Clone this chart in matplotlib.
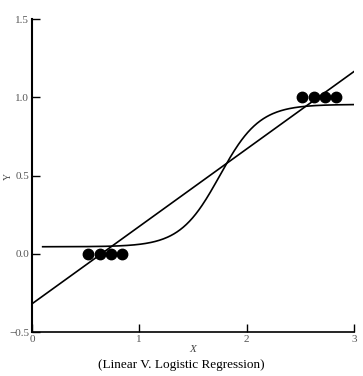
import numpy as np
import matplotlib.pyplot as plt

plt.rcParams['font.family'] = ['Liberation Serif', 'DejaVu Serif']

# observed points (0 and 1 outcomes)
x_low = [0.52, 0.63, 0.74, 0.84]
y_low = [0.0, 0.0, 0.0, 0.0]
x_high = [2.52, 2.63, 2.73, 2.83]
y_high = [1.0, 1.0, 1.0, 1.0]

# linear fit: intercept, slope
lin_coef = [-0.32, 0.495]
lin_range = [0.0, 3.0]

# logistic fit: floor, ceiling, midpoint, steepness
logit_params = [0.045, 0.955, 1.75, 5.4]
logit_range = [0.1, 3.0]

xticks = [0, 1, 2, 3]
yticks = [-0.5, 0.0, 0.5, 1.0, 1.5]
xtick_labels = ['0', '1', '2', '3']
ytick_labels = ['\u22120.5', '0.0', '0.5', '1.0', '1.5']

fig = plt.figure(figsize=(3.63, 3.76), dpi=100)
ax = fig.add_axes([0.088, 0.117, 0.887, 0.832])

xl = np.array(lin_range)
ax.plot(xl, lin_coef[0] + lin_coef[1] * xl, color='black', lw=1.2)

lo, hi, mid, k = logit_params
xs = np.linspace(logit_range[0], logit_range[1], 300)
ax.plot(xs, lo + (hi - lo) / (1 + np.exp(-k * (xs - mid))), color='black', lw=1.2)

ax.plot(x_low, y_low, 'o', color='black', ms=7.5)
ax.plot(x_high, y_high, 'o', color='black', ms=7.5)

ax.set_xlim(0, 3)
ax.set_ylim(-0.5, 1.5)
ax.set_xticks(xticks)
ax.set_xticklabels(xtick_labels)
ax.set_yticks(yticks)
ax.set_yticklabels(ytick_labels)
ax.tick_params(direction='in', length=6, width=1, labelsize=8,
               labelcolor='#555555', pad=2)

for s in ['top', 'right']:
    ax.spines[s].set_visible(False)
ax.spines['left'].set_linewidth(1.5)
ax.spines['bottom'].set_linewidth(1.2)

fig.text(8 / 363, 0.53, 'Y', rotation=90, fontsize=7, color='#444444',
         ha='center', va='center')
ax.set_xlabel('X', fontsize=8, style='italic', color='#444444', labelpad=1)

fig.text(0.5, 0.022, '(Linear V. Logistic Regression)', ha='center',
         fontsize=9.5, color='black')

fig.savefig('out.png', dpi=100)
